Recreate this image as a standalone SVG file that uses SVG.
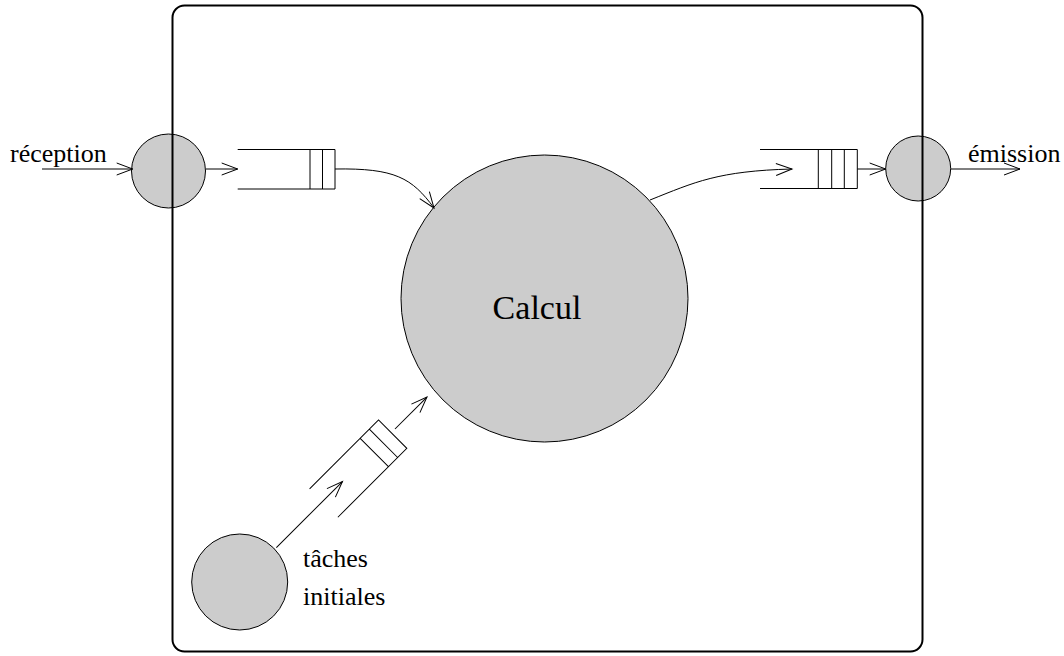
<svg xmlns="http://www.w3.org/2000/svg" width="1064" height="656" viewBox="0 0 1064 656">
<defs>
<style>
.node{fill:#cccccc;stroke:#000;stroke-width:1}
.q{fill:none;stroke:#000;stroke-width:1}
.c{fill:none;stroke:#000;stroke-width:1;marker-end:url(#ah)}
.lbl{font-family:"Liberation Serif","Times New Roman",serif;font-size:26px;fill:#000}
.box{fill:none;stroke:#000;stroke-width:2}
</style>
<marker id="ah" markerUnits="userSpaceOnUse" markerWidth="20" markerHeight="14" refX="17" refY="7" orient="auto" overflow="visible">
<path d="M1,1 L17,7 L1,13" fill="none" stroke="#000" stroke-width="1"/>
</marker>
</defs>
<g id="reception">
<circle class="node" cx="168.5" cy="171" r="37"/>
<text class="lbl" x="10" y="162">réception</text>
</g>
<g id="emission">
<circle class="node" cx="918.2" cy="168.5" r="32.5"/>
<text class="lbl" x="968" y="162">émission</text>
</g>
<g id="calcul">
<circle class="node" cx="544.5" cy="298.5" r="143.5"/>
<text x="537" y="319" text-anchor="middle" style="font-family:'Liberation Serif','Times New Roman',serif;font-size:34px;fill:#000">Calcul</text>
</g>
<g id="taches">
<circle class="node" cx="239.7" cy="582" r="48"/>
<text class="lbl" x="303" y="567">tâches</text>
<text class="lbl" x="303" y="605">initiales</text>
</g>
<g id="queue-in">
<path class="q" d="M237.7,149.5 H335 V189 H237.7 M310,149.5 V189 M322.5,149.5 V189"/>
</g>
<g id="queue-out">
<path class="q" d="M760,149.5 H857.3 V188.5 H760 M818.3,149.5 V188.5 M831.7,149.5 V188.5 M844.3,149.5 V188.5"/>
</g>
<g id="queue-init" transform="translate(241,583) rotate(-45)">
<path class="q" d="M115,-18 H212.5 V22 H115 M186.5,-18 V22 M199.5,-18 V22"/>
</g>
<g id="process-box">
<rect class="box" x="172.5" y="5.5" width="750" height="646" rx="12" ry="12"/>
</g>
<g id="connectors">
<line class="c" x1="42" y1="169" x2="132.7" y2="169"/>
<line class="c" x1="206" y1="169" x2="237.7" y2="169"/>
<path class="c" d="M335,169 C395,168 412,178 434,208"/>
<path class="c" d="M650,200 C695,182 718,171 792,169"/>
<line class="c" x1="857.3" y1="169" x2="885.7" y2="169"/>
<line class="c" x1="950.7" y1="169" x2="1020" y2="169"/>
<g transform="translate(241,583) rotate(-45)">
<line class="c" x1="50" y1="0" x2="143.5" y2="0"/>
<line class="c" x1="217.8" y1="0" x2="263" y2="0"/>
</g>
</g>
</svg>
